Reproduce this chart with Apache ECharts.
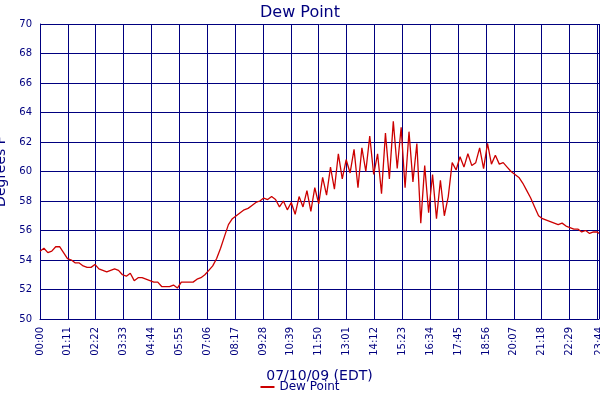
<!DOCTYPE html>
<html><head><meta charset="utf-8">
<script src="https://cdn.jsdelivr.net/npm/echarts@6/dist/echarts.min.js"></script>
<style>html,body{margin:0;padding:0;background:#fff}#c{width:600px;height:400px}</style>
</head><body><div id="c"></div>
<script>
const stepMinutes = 10;
const dewPoint = [54.6,54.8,54.5,54.6,54.9,54.9,54.5,54.1,54.0,53.8,53.8,53.6,53.5,53.5,53.7,53.4,53.3,53.2,53.3,53.4,53.3,53.0,52.9,53.1,52.6,52.8,52.8,52.7,52.6,52.5,52.5,52.2,52.2,52.2,52.3,52.1,52.5,52.5,52.5,52.5,52.7,52.8,53.0,53.3,53.6,54.1,54.8,55.6,56.4,56.8,57.0,57.2,57.4,57.5,57.7,57.9,58.0,58.2,58.1,58.3,58.1,57.6,58.0,57.4,57.9,57.1,58.3,57.6,58.7,57.3,58.9,57.8,59.6,58.4,60.3,58.8,61.2,59.5,60.8,59.9,61.5,58.9,61.6,60.0,62.4,59.8,61.2,58.5,62.6,59.5,63.4,60.2,63.0,58.9,62.7,59.3,61.9,56.5,60.4,57.2,59.8,56.8,59.4,57.0,58.3,60.6,60.1,61.0,60.3,61.2,60.4,60.6,61.6,60.2,61.9,60.5,61.1,60.5,60.6,60.3,60.0,59.8,59.6,59.2,58.7,58.2,57.6,57.0,56.8,56.7,56.6,56.5,56.4,56.5,56.3,56.2,56.1,56.1,55.9,56.0,55.8,55.9,55.9];
const lastPoint = [1424, 55.8];
const yTicks = [50,52,54,56,58,60,62,64,66,68,70];
const navy = '#00007f';
const data = dewPoint.map((v,i)=>[i*stepMinutes, v]);
data.push(lastPoint);
function fmt(m){const h=Math.floor(m/60),mm=Math.round(m%60);return String(h).padStart(2,'0')+':'+String(mm).padStart(2,'0');}
const chart = echarts.init(document.getElementById('c'));
chart.setOption({
  animation:false,
  textStyle:{fontFamily:'DejaVu Sans'},
  title:{text:'Dew Point',left:'center',top:0,textStyle:{color:navy,fontSize:16,fontWeight:'normal',fontFamily:'DejaVu Sans'}},
  legend:{bottom:2,left:'center',itemWidth:14,itemHeight:2,icon:'rect',textStyle:{color:navy,fontSize:12},data:['Dew Point']},
  grid:{left:40,right:1,top:24,bottom:81,containLabel:false,outerBoundsMode:'none'},
  xAxis:{type:'value',min:0,max:1424,interval:71,
    name:'07/10/09 (EDT)',nameLocation:'middle',nameGap:50,nameTextStyle:{color:navy,fontSize:14},
    axisLine:{lineStyle:{color:navy}},axisTick:{show:false},
    axisLabel:{rotate:90,color:navy,fontSize:10,showMaxLabel:true,hideOverlap:false,formatter:v=>fmt(v)},
    splitLine:{show:true,lineStyle:{color:navy,width:1}}},
  yAxis:{type:'value',min:yTicks[0],max:yTicks[yTicks.length-1],interval:2,
    name:'Degrees F',nameLocation:'middle',nameGap:26,nameTextStyle:{color:navy,fontSize:14},
    axisLine:{show:true,lineStyle:{color:navy}},axisTick:{show:false},
    axisLabel:{color:navy,fontSize:10},
    splitLine:{show:true,lineStyle:{color:navy,width:1}}},
  series:[{name:'Dew Point',type:'line',data:data,showSymbol:false,symbol:'none',
    lineStyle:{color:'#cc0000',width:1.3},itemStyle:{color:'#cc0000'}}]
});
</script></body></html>
